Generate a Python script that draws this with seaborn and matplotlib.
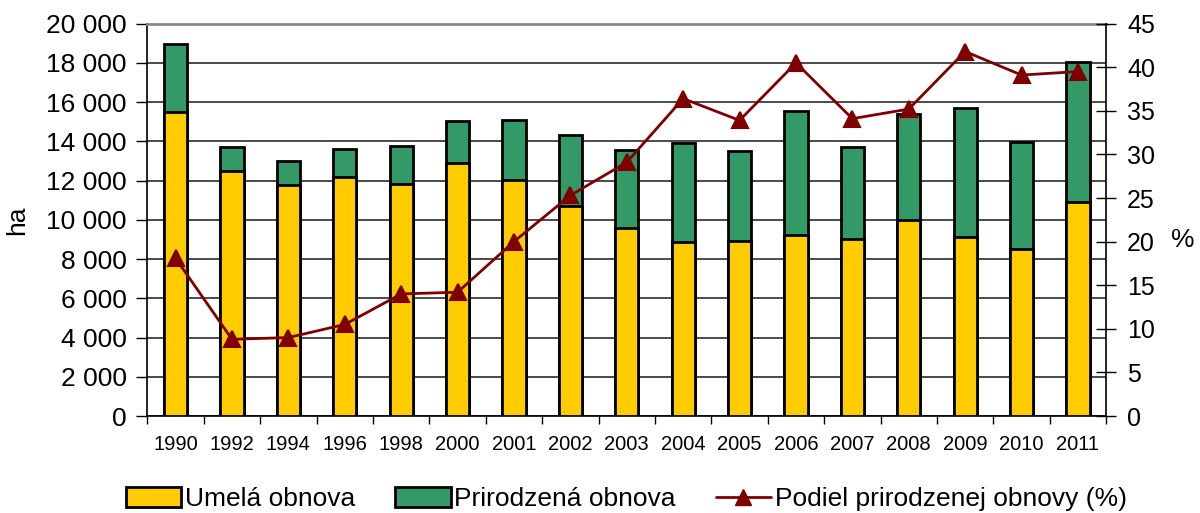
import numpy as np
import pandas as pd
import seaborn as sns
import matplotlib.pyplot as plt
from matplotlib.patches import Patch
from matplotlib.lines import Line2D
from matplotlib.ticker import FuncFormatter, MultipleLocator, FixedLocator

years = ["1990", "1992", "1994", "1996", "1998", "2000", "2001", "2002", "2003",
         "2004", "2005", "2006", "2007", "2008", "2009", "2010", "2011"]
# artificial regeneration (ha)
umela = [15480, 12480, 11800, 12160, 11830, 12900, 12050, 10680, 9590,
         8850, 8900, 9230, 9010, 9980, 9120, 8500, 10910]
# total regeneration (ha) = artificial + natural
spolu = [18960, 13700, 12990, 13610, 13750, 15040, 15075, 14310, 13580,
         13920, 13500, 15550, 13700, 15400, 15700, 13950, 18060]
# share of natural regeneration (%)
podiel = [18.1, 8.8, 9.0, 10.5, 14.0, 14.2, 20.0, 25.3, 29.1,
          36.4, 33.9, 40.5, 34.1, 35.2, 41.8, 39.1, 39.5]

YELLOW = "#FFCC00"
GREEN = "#339966"
RED = "#800000"

df = pd.DataFrame({"rok": years, "umela": umela, "spolu": spolu, "podiel": podiel})

sns.set_style("white")
plt.rcParams["font.family"] = ["Liberation Sans", "DejaVu Sans"]
plt.rcParams.update({"text.color": "black", "axes.labelcolor": "black",
                     "xtick.color": "black", "ytick.color": "black"})

fig = plt.figure(figsize=(12, 5.13), dpi=100)
ax1 = fig.add_axes([0.1228, 0.189, 0.799, 0.765])
ax1.set_axisbelow(True)

sns.barplot(data=df, x="rok", y="spolu", color=GREEN, saturation=1, width=0.41,
            edgecolor="black", linewidth=2, ax=ax1, zorder=2)
sns.barplot(data=df, x="rok", y="umela", color=YELLOW, saturation=1, width=0.41,
            edgecolor="black", linewidth=2, ax=ax1, zorder=3)

ax1.set_ylim(0, 20000)
ax1.yaxis.set_major_locator(MultipleLocator(2000))
ax1.yaxis.set_major_formatter(FuncFormatter(lambda v, p: f"{int(v):,}".replace(",", " ")))
ax1.grid(axis="y", color="#1a1a1a", linewidth=1.1)
ax1.set_xlabel("")
ax1.set_ylabel("ha", fontsize=19, labelpad=12)
ax1.tick_params(axis="y", labelsize=19, length=8, width=1, direction="out", left=True, pad=7)
ax1.tick_params(axis="x", which="major", length=0, labelsize=14.5, pad=14)
ax1.xaxis.set_minor_locator(FixedLocator(np.arange(-0.5, len(years), 1)))
ax1.tick_params(axis="x", which="minor", length=6, width=1, direction="out", bottom=True)
for s in ["left", "bottom"]:
    ax1.spines[s].set_color("black")
    ax1.spines[s].set_linewidth(1.2)
ax1.spines["top"].set_color("#888888")
ax1.spines["top"].set_linewidth(2)
ax1.spines["right"].set_visible(False)

ax2 = ax1.twinx()
sns.pointplot(data=df, x="rok", y="podiel", color=RED, markers="^", markersize=11,
              linewidth=2, ax=ax2)
ax2.set_ylim(0, 45)
ax2.yaxis.set_major_locator(MultipleLocator(5))
ax2.set_ylabel("")
ax2.tick_params(axis="y", labelsize=18, length=14, width=1, direction="inout", right=True, pad=8)
for s in ["left", "top", "bottom"]:
    ax2.spines[s].set_visible(False)
ax2.spines["right"].set_color("black")
ax2.spines["right"].set_linewidth(1.2)
ax1.set_xlim(-0.5, len(years) - 0.5)

fig.text(0.986, 0.532, "%", fontsize=19, ha="center", va="center")

handles = [
    Patch(facecolor=YELLOW, edgecolor="black", linewidth=2),
    Patch(facecolor=GREEN, edgecolor="black", linewidth=2),
    Line2D([0], [0], color=RED, linewidth=2, marker="^", markersize=11),
]
labels = ["Umelá obnova", "Prirodzená obnova", "Podiel prirodzenej obnovy (%)"]
fig.legend(handles, labels, loc="center", bbox_to_anchor=(0.522, 0.027), ncol=3,
           frameon=False, fontsize=19, handlelength=2.1, handleheight=0.75,
           handletextpad=0.15, columnspacing=1.5)

fig.savefig("out.png", dpi=100)
